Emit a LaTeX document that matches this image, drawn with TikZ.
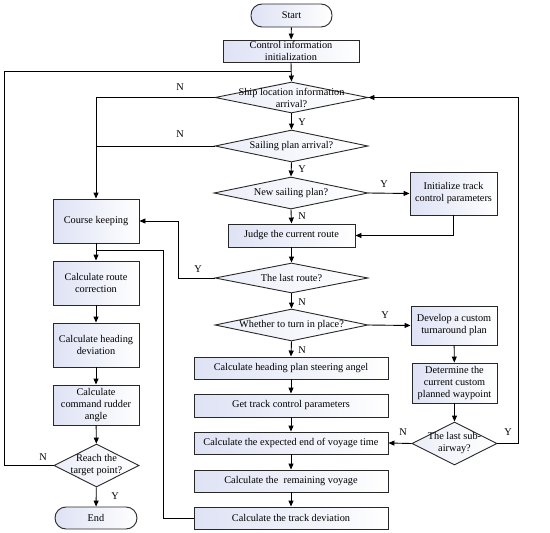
\documentclass[tikz,border=0pt]{standalone}
\usepackage{fontspec}
\setmainfont{Liberation Serif}
\usetikzlibrary{arrows.meta,shapes.geometric,calc}
\definecolor{lav}{RGB}{222,226,244}
\definecolor{edge}{RGB}{40,40,40}
\tikzset{
  every node/.style={font=\fontsize{10.3}{12}\selectfont},
  procbox/.style={draw=edge,line width=0.9pt,left color=lav,right color=white,align=center,inner sep=0pt},
  termbox/.style={procbox,rounded corners=11pt},
  decbox/.style={draw=edge,line width=0.9pt,diamond,left color=lav!60,right color=white,inner sep=0pt,aspect=1},
  flow/.style={line width=0.9pt,draw=black,-{Triangle[length=6pt,width=5pt]}},
  wire/.style={line width=0.9pt,draw=black},
  lbl/.style={inner sep=0pt}
}
\begin{document}
\begin{tikzpicture}[x=1pt,y=-1pt]
\useasboundingbox (0,0) rectangle (550,533);
% main column
\node[termbox,minimum width=81pt,minimum height=23pt] (start) at (291.5,15.5) {Start};
\node[procbox,minimum width=136pt,minimum height=22pt] (init) at (291,51) {Control information\\initialization};
\node[decbox,minimum width=153pt,minimum height=31pt,label=center:{\parbox{150pt}{\centering Ship location information\\arrival?}}] (ship) at (291.5,97.5) {};
\node[decbox,minimum width=153pt,minimum height=32pt,label=center:{Sailing plan arrival?}] (sail) at (291.5,146) {};
\node[decbox,minimum width=154pt,minimum height=32pt,label=center:{New sailing plan?}] (newp) at (291,193) {};
\node[procbox,minimum width=87pt,minimum height=43pt] (itp) at (453.5,193.5) {Initialize track\\control parameters};
\node[procbox,minimum width=127pt,minimum height=23pt] (judge) at (291.5,235.5) {Judge the current route};
\node[decbox,minimum width=153pt,minimum height=30pt,label=center:{The last route?}] (last) at (291.5,278) {};
\node[decbox,minimum width=153pt,minimum height=32pt,label=center:{Whether to turn in place?}] (turn) at (291.5,325) {};
\node[procbox,minimum width=86pt,minimum height=39pt] (dev) at (454,325.5) {Develop a custom\\turnaround plan};
\node[procbox,minimum width=194pt,minimum height=22pt] (hps) at (291,368) {Calculate heading plan steering angel};
\node[procbox,minimum width=194pt,minimum height=23pt] (gtp) at (291,405.5) {Get track control parameters};
\node[procbox,minimum width=194pt,minimum height=22pt] (eev) at (291,443) {Calculate the expected end of voyage time};
\node[procbox,minimum width=194pt,minimum height=22pt] (rem) at (291,481) {Calculate the \ remaining voyage};
\node[procbox,minimum width=194pt,minimum height=22pt] (tdv) at (291,518) {Calculate the track deviation};
\node[procbox,minimum width=85pt,minimum height=40pt] (det) at (454.5,383) {Determine the\\current custom\\planned waypoint};
\node[decbox,minimum width=85pt,minimum height=43pt,label=center:{\parbox{80pt}{\centering The last sub-\\airway?}}] (lsa) at (454.5,443.5) {};
% left column
\node[procbox,minimum width=86pt,minimum height=44pt] (ck) at (96,221) {Course keeping};
\node[procbox,minimum width=86pt,minimum height=44pt] (rc) at (96,283) {Calculate route\\correction};
\node[procbox,minimum width=86pt,minimum height=44pt] (hd) at (96,345) {Calculate heading\\deviation};
\node[procbox,minimum width=86pt,minimum height=40pt] (cra) at (96,405) {Calculate\\command rudder\\angle};
\node[decbox,minimum width=85pt,minimum height=43pt,label=center:{\parbox{80pt}{\centering Reach the\\target point?}}] (reach) at (96.5,465.5) {};
\node[termbox,minimum width=82pt,minimum height=22pt] (end) at (96,518) {End};
% helper coordinates
\coordinate (j1) at (291,71);
\coordinate (j2) at (96,250);
\coordinate (c2) at (163,250);
% connectors
\draw[flow] (start) -- (init);
\draw[flow] (init.south) -- (ship.north);
\draw[wire] (reach.west) -- (4,465.5) |- (j1);
\draw[flow] (ship.west) -| (ck.north);
\draw[wire] (sail.west) -- (sail.west -| ck.north);
\draw[flow] (ship.south) -- (sail.north);
\draw[flow] (sail.south) -- (newp.north);
\draw[flow] (newp.east) -- (itp.west);
\draw[flow] (newp.south) -- (judge.north);
\draw[flow] (itp.south) |- (judge.east);
\draw[flow] (judge.south) -- (last.north);
\draw[flow] (last.west) -- (178,278) |- (ck.east);
\draw[flow] (last.south) -- (turn.north);
\draw[flow] (turn.east) -- (dev.west);
\draw[flow] (turn.south) -- (hps.north);
\draw[flow] (hps) -- (gtp);
\draw[flow] (gtp) -- (eev);
\draw[flow] (eev) -- (rem);
\draw[flow] (rem) -- (tdv);
\draw[flow] (dev) -- (det);
\draw[flow] (det) -- (lsa);
\draw[flow] (lsa.west) -- (eev.east);
\draw[flow] (lsa.east) -- (518,443.5) |- (ship.east);
\draw[flow] (ck) -- (rc);
\draw[flow] (rc) -- (hd);
\draw[flow] (hd) -- (cra);
\draw[flow] (cra) -- (reach);
\draw[flow] (reach) -- (end);
\draw[wire] (tdv.west) -| (c2) -- (j2);
% labels
\node[lbl] at (180,87) {N};
\node[lbl] at (180,134) {N};
\node[lbl] at (302,122) {Y};
\node[lbl] at (302,169) {Y};
\node[lbl] at (384,184) {Y};
\node[lbl] at (302,216) {N};
\node[lbl] at (198,269) {Y};
\node[lbl] at (302,302) {N};
\node[lbl] at (385,315) {Y};
\node[lbl] at (302,350) {N};
\node[lbl] at (403,432) {N};
\node[lbl] at (508,432) {Y};
\node[lbl] at (43,457) {N};
\node[lbl] at (115,496) {Y};
\end{tikzpicture}
\end{document}
